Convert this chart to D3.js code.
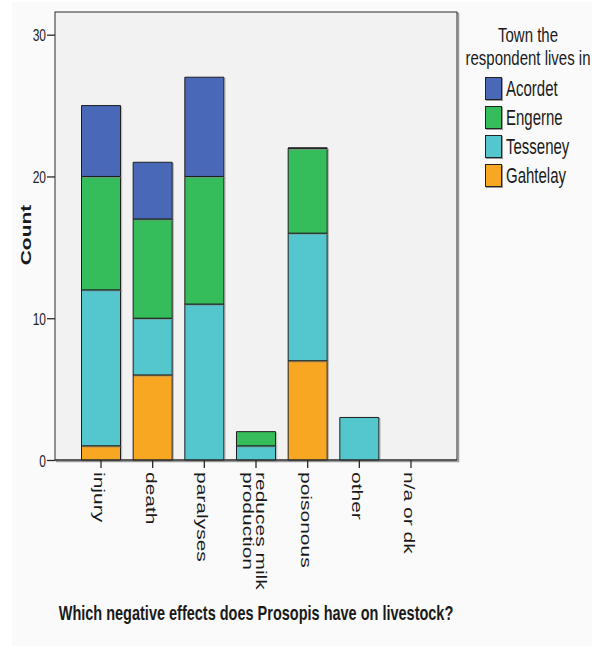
<!DOCTYPE html>
<html>
<head>
<meta charset="utf-8">
<script src="https://cdn.jsdelivr.net/npm/d3@7"></script>
<style>
  html, body { margin: 0; padding: 0; background: #ffffff; }
  svg { display: block; }
  text { font-family: "Liberation Sans", Arial, sans-serif; fill: #1a1a1a; }
</style>
</head>
<body>
<svg id="chart" width="592" height="648"></svg>
<script>
// ---- data ----
const categories = [["injury"], ["death"], ["paralyses"], ["reduces milk", "production"], ["poisonous"], ["other"], ["n/a or dk"]];
const categoryKeys = ["injury", "death", "paralyses", "reduces milk production", "poisonous", "other", "n/a or dk"];
const towns = ["Gahtelay", "Tesseney", "Engerne", "Acordet"]; // stacking order bottom -> top
const legendOrder = ["Acordet", "Engerne", "Tesseney", "Gahtelay"];
const gahtelay = [1, 6, null, null, 7, null, null];
const tesseney = [11, 4, 11, 1, 9, 3, null];
const engerne  = [8, 7, 9, 1, 6, null, null];
const acordet  = [5, 4, 7, null, 0, null, null];
const yTicks = [0, 10, 20, 30];
const legendTitle = ["Town the", "respondent lives in"];
const xTitle = "Which negative effects does Prosopis have on livestock?";
const yTitle = "Count";

const seriesValues = { Gahtelay: gahtelay, Tesseney: tesseney, Engerne: engerne, Acordet: acordet };
const colors = { Acordet: "#4a68b8", Engerne: "#34bd5a", Tesseney: "#53c7cd", Gahtelay: "#f8a723" };

// ---- layout ----
const plot = { left: 55, right: 457, top: 12, bottom: 460 };
const yMax = 31.6;
const stretch = 1.45;

const svg = d3.select("#chart");

// page background
svg.append("rect").attr("x", 0).attr("y", 0).attr("width", 592).attr("height", 648).attr("fill", "#ffffff");
svg.append("rect").attr("x", 12).attr("y", 2).attr("width", 580).attr("height", 644).attr("fill", "#fafafa");

const x = d3.scaleBand().domain(categoryKeys).range([81.5, 430.5]).paddingInner(0.245).paddingOuter(0);
const y = d3.scaleLinear().domain([0, yMax]).range([plot.bottom, plot.top]);

// plot area
svg.append("rect")
  .attr("x", plot.left + 1.5).attr("y", plot.top + 1.5)
  .attr("width", plot.right - plot.left).attr("height", plot.bottom - plot.top)
  .attr("fill", "none").attr("stroke", "#9a9a9a").attr("stroke-width", 1.5);
svg.append("rect")
  .attr("x", plot.left).attr("y", plot.top)
  .attr("width", plot.right - plot.left).attr("height", plot.bottom - plot.top)
  .attr("fill", "#f2f2f2").attr("stroke", "#2a2a2a").attr("stroke-width", 1);

// stacked bars
const stackData = categoryKeys.map((c, i) => {
  const row = { cat: c };
  towns.forEach(t => { row[t] = seriesValues[t][i]; });
  return row;
});

const g = svg.append("g");
stackData.forEach(row => {
  let base = 0;
  towns.forEach(t => {
    const v = row[t];
    if (v === null || v === undefined) return;
    const x0 = x(row.cat), w = x.bandwidth();
    const yTop = y(base + v), yBot = y(base);
    // shadow
    g.append("path")
      .attr("d", `M${x0 + 1.2},${yTop + 1.2}h${w}v${yBot - yTop}h${-w}Z`)
      .attr("fill", "none").attr("stroke", "#8a8a8a").attr("stroke-width", 1).attr("stroke-opacity", 0.6);
    g.append("path")
      .attr("d", `M${x0},${yTop}h${w}v${yBot - yTop}h${-w}Z`)
      .attr("fill", colors[t]).attr("stroke", "#1e1e1e").attr("stroke-width", 1);
    base += v;
  });
});

// redraw bottom axis line over bars
svg.append("line").attr("x1", plot.left).attr("x2", plot.right).attr("y1", plot.bottom).attr("y2", plot.bottom)
  .attr("stroke", "#2a2a2a").attr("stroke-width", 1.2);

// y axis
const yAxis = d3.axisLeft(y).tickValues(yTicks).tickSize(8).tickPadding(2).tickFormat(d3.format("d"));
const yg = svg.append("g").attr("transform", `translate(${plot.left},0)`).call(yAxis);
yg.select(".domain").remove();
yg.selectAll(".tick line").attr("stroke", "#2a2a2a").attr("stroke-width", 1.3);
yg.selectAll(".tick text").each(function (d) {
  const t = d3.select(this);
  t.attr("x", null).attr("dy", null).attr("y", null)
   .attr("transform", `translate(-9,${6.3}) scale(1,${stretch})`)
   .attr("text-anchor", "end").attr("font-size", 12).style("fill", "#222");
});

// x axis
const xAxis = d3.axisBottom(x).tickSize(8).tickFormat("");
const xg = svg.append("g").attr("transform", `translate(0,${plot.bottom})`).call(xAxis);
xg.select(".domain").remove();
xg.selectAll(".tick line").attr("stroke", "#2a2a2a").attr("stroke-width", 1.3);

// rotated x tick labels
const lineH = 13;
categoryKeys.forEach((c, i) => {
  const lines = categories[i];
  const cx = x(c) + x.bandwidth() / 2;
  const n = lines.length;
  lines.forEach((ln, j) => {
    const centerX = cx - 3 + ((n - 1) / 2 - j) * lineH;
    const baseX = centerX - 4;
    svg.append("text")
      .attr("transform", `translate(${baseX},${472}) scale(1,${1.5}) rotate(90)`)
      .attr("font-size", 14).attr("text-anchor", "start")
      .text(ln);
  });
});

// y title
svg.append("text")
  .attr("transform", `translate(31,235) scale(1,1.5) rotate(-90)`)
  .attr("font-size", 14).attr("font-weight", "bold").attr("text-anchor", "middle")
  .text(yTitle);

// x title
svg.append("text")
  .attr("transform", `translate(256,620) scale(1,${stretch})`)
  .attr("font-size", 14.5).attr("font-weight", "bold").attr("text-anchor", "middle")
  .text(xTitle);

// legend
const lg = svg.append("g");
legendTitle.forEach((t, i) => {
  lg.append("text")
    .attr("transform", `translate(528,${42 + i * 23}) scale(1,1.4)`)
    .attr("font-size", 15).attr("text-anchor", "middle").text(t);
});
const legY = d3.scalePoint().domain(legendOrder).range([77, 164]);
legendOrder.forEach(t => {
  const top = legY(t);
  lg.append("rect").attr("x", 486.5).attr("y", top + 1.5).attr("width", 16).attr("height", 22)
    .attr("fill", "none").attr("stroke", "#999").attr("stroke-width", 1);
  lg.append("rect").attr("x", 485.5).attr("y", top + 0.5).attr("width", 16).attr("height", 22)
    .attr("fill", colors[t]).attr("stroke", "#222").attr("stroke-width", 1);
  lg.append("text")
    .attr("transform", `translate(506,${top + 19}) scale(1,${stretch})`)
    .attr("font-size", 15).text(t);
});
</script>
</body>
</html>
